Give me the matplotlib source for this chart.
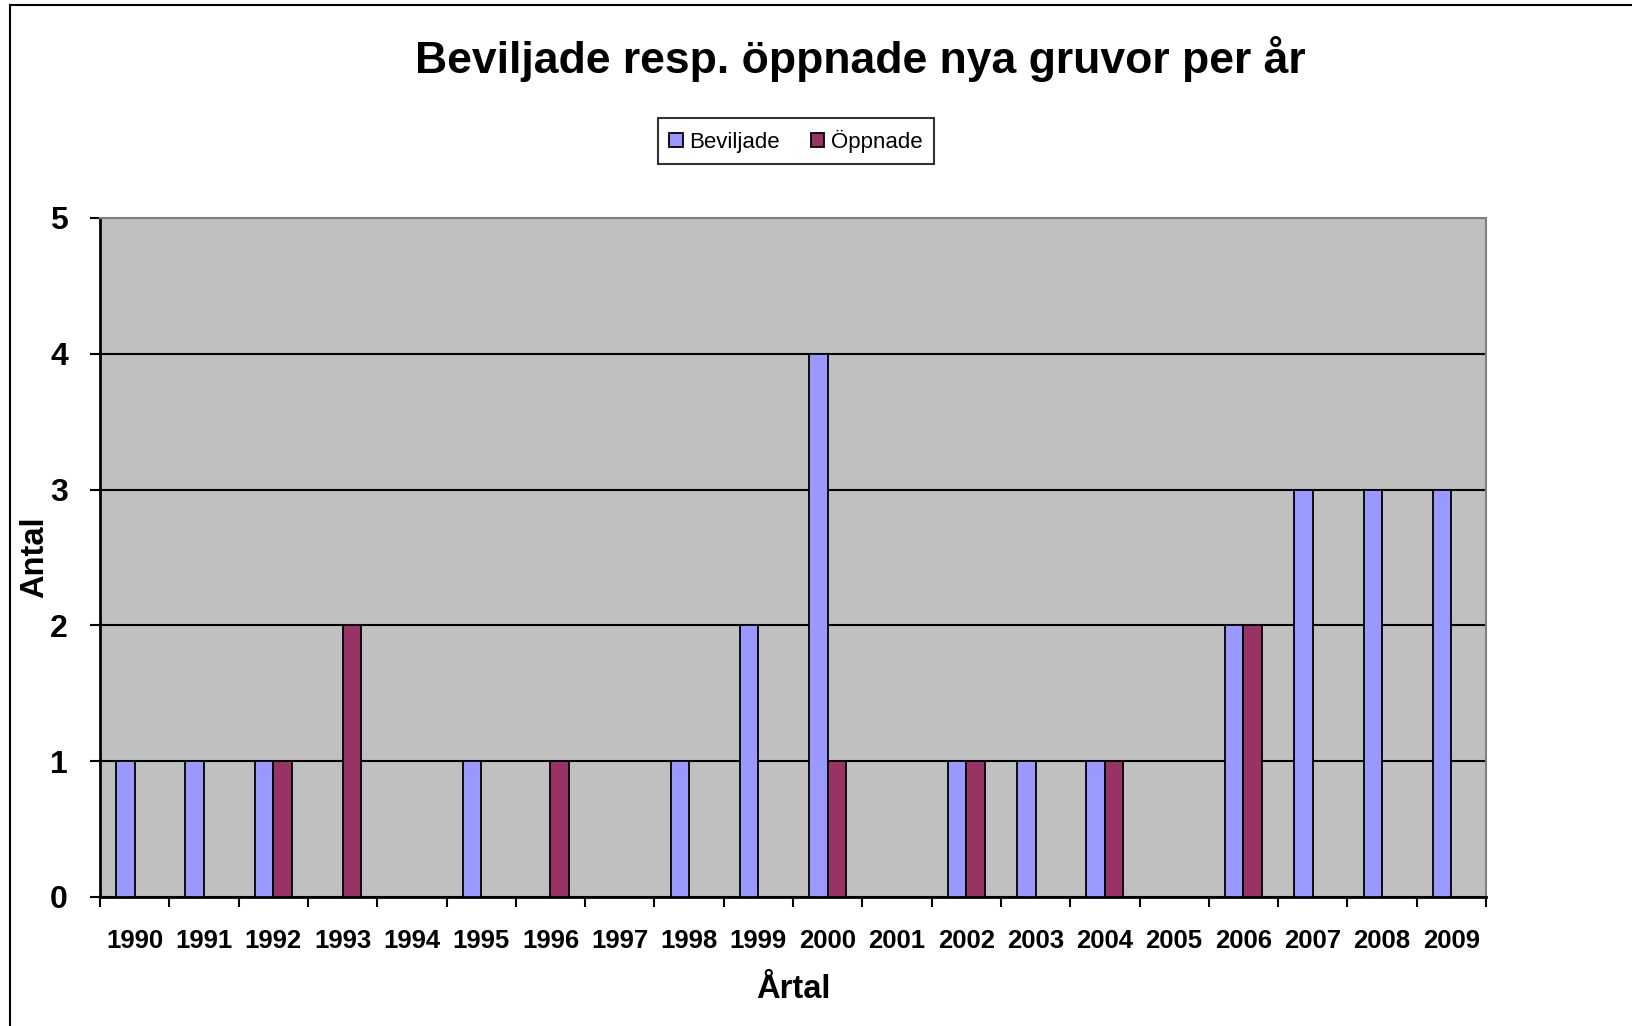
import numpy as np
import matplotlib.pyplot as plt
from matplotlib.lines import Line2D

plt.rcParams['font.family'] = ['Liberation Sans', 'DejaVu Sans']

# Data
years = ['1990', '1991', '1992', '1993', '1994', '1995', '1996', '1997', '1998', '1999',
         '2000', '2001', '2002', '2003', '2004', '2005', '2006', '2007', '2008', '2009']
beviljade = [1, 1, 1, 0, 0, 1, 0, 0, 1, 2, 4, 0, 1, 1, 1, 0, 2, 3, 3, 3]
oppnade = [0, 0, 1, 2, 0, 0, 1, 0, 0, 0, 1, 0, 1, 0, 1, 0, 2, 0, 0, 0]

fig = plt.figure(figsize=(16.32, 10.26), dpi=100)
ax = fig.add_axes([100 / 1632, 1 - 897 / 1026, 1386 / 1632, 679 / 1026])
ax.set_facecolor('#c0c0c0')

x = np.arange(len(years))
w = 0.267
ax.bar(x - w / 2, beviljade, w, color='#9999ff', edgecolor='black', linewidth=1.3,
       label='Beviljade', zorder=3)
ax.bar(x + w / 2, oppnade, w, color='#993366', edgecolor='black', linewidth=1.3,
       label='Öppnade', zorder=3)

ax.set_xlim(-0.5, len(years) - 0.5)
ax.set_ylim(0, 5)
ax.set_yticks(range(6))
ax.yaxis.grid(True, color='black', linewidth=1.5, zorder=1)

# category boundaries get the ticks, labels sit in the middle
ax.set_xticks(np.arange(-0.5, len(years) + 0.5, 1))
ax.set_xticklabels([])
ax.set_xticks(x, minor=True)
ax.set_xticklabels(years, minor=True, fontsize=18.5, fontweight='bold')
ax.tick_params(axis='x', which='major', direction='out', length=7, width=1.5)
ax.tick_params(axis='x', which='minor', length=0, pad=23)
ax.tick_params(axis='y', direction='out', length=7, width=1.5, pad=16,
               labelsize=23)
for t in ax.get_yticklabels():
    t.set_fontweight('bold')

ax.spines['left'].set_linewidth(2)
ax.spines['bottom'].set_linewidth(2)
ax.spines['top'].set_color('#808080')
ax.spines['right'].set_color('#808080')
ax.spines['top'].set_linewidth(1.5)
ax.spines['right'].set_linewidth(1.5)

ax.set_xlabel('Årtal', fontsize=23.5, fontweight='bold', labelpad=15)
ax.set_ylabel('Antal', fontsize=23.5, fontweight='bold')
ax.yaxis.set_label_coords(-0.036, 0.5)

fig.text(0.527, 1 - 59 / 1026, 'Beviljade resp. öppnade nya gruvor per år',
         ha='center', va='center', fontsize=32, fontweight='bold')

leg = fig.legend(loc='center', bbox_to_anchor=(796 / 1632, 1 - 141 / 1026), ncol=2,
                 fontsize=16, frameon=True, fancybox=False, edgecolor='black',
                 handlelength=0.6, handleheight=0.6, handletextpad=0.3,
                 columnspacing=1.4, borderpad=0.5)
leg.get_frame().set_linewidth(1.5)

# outer chart border (only top and left are visible in the picture)
fig.add_artist(Line2D([10 / 1632, 10 / 1632], [0, 1 - 5 / 1026], color='black', linewidth=1.5))
fig.add_artist(Line2D([10 / 1632, 1], [1 - 5 / 1026, 1 - 5 / 1026], color='black', linewidth=1.5))

fig.savefig('out.png', dpi=100)
